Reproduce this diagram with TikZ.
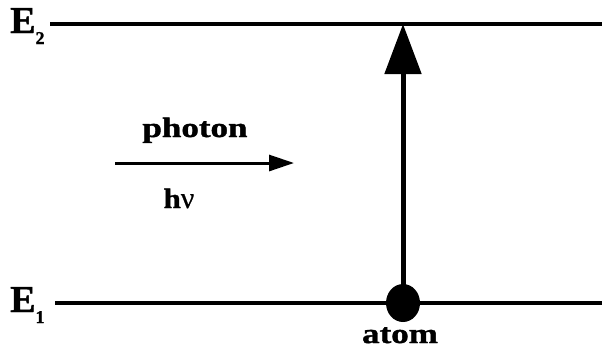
\documentclass[tikz,border=0pt]{standalone}
\usepackage{fontspec}
\setmainfont{Liberation Serif}
\newfontfamily\heavyfont[FakeBold=1.2]{Liberation Serif Bold}
\newfontfamily\heavygreek[FakeBold=0.6]{Liberation Serif}
\usetikzlibrary{arrows.meta,shapes.geometric}
\newcommand\widetxt[1]{\scalebox{1.25}[1]{#1}}
\begin{document}
\begin{tikzpicture}[x=1pt,y=-1pt,
  level/.style={line width=4.5pt},
  lbl/.style={font=\heavyfont\fontsize{28}{30}\selectfont, inner sep=0pt},
  elbl/.style={font=\heavyfont\fontsize{38}{40}\selectfont, inner sep=0pt, anchor=base west},
  atomdot/.style={ellipse, fill=black, minimum width=34pt, minimum height=38pt, inner sep=0pt},
  excite/.style={line width=5pt, -{Triangle[length=50pt,width=36pt]}, shorten >=-2pt},
  photonarrow/.style={line width=3pt, -{Triangle[length=25pt,width=16pt]}}]
\useasboundingbox (0,0) rectangle (602,349);
% energy labels
\node[elbl] (E2) at (10,33) {E\raisebox{-11pt}{\fontsize{18}{18}\selectfont 2}};
\node[elbl] (E1) at (10,312) {E\raisebox{-11pt}{\fontsize{18}{18}\selectfont 1}};
% levels
\coordinate (E2a) at (50,24);
\coordinate (E2b) at (602,24);
\coordinate (E1a) at (55,303);
\coordinate (E1b) at (602,303);
\draw[level] (E2a) -- (E2b);
\draw[level] (E1a) -- (E1b);
% atom
\node[atomdot] (atom) at (403,303) {};
\coordinate (top) at (403,26);
\draw[excite] (atom.center) -- (top);
\node[lbl, anchor=base] (atomlbl) at (400,343) {\widetxt{atom}};
% photon
\node[lbl, anchor=base] (photon) at (195,137) {\widetxt{photon}};
\coordinate (pa) at (115,163);
\coordinate (pb) at (294,163);
\draw[photonarrow] (pa) -- (pb);
\node[lbl, anchor=base] (hnu) at (179,208) {\scalebox{1.1}[1]{h}\heavygreek\fontsize{30}{30}\selectfont ν};
\end{tikzpicture}
\end{document}
